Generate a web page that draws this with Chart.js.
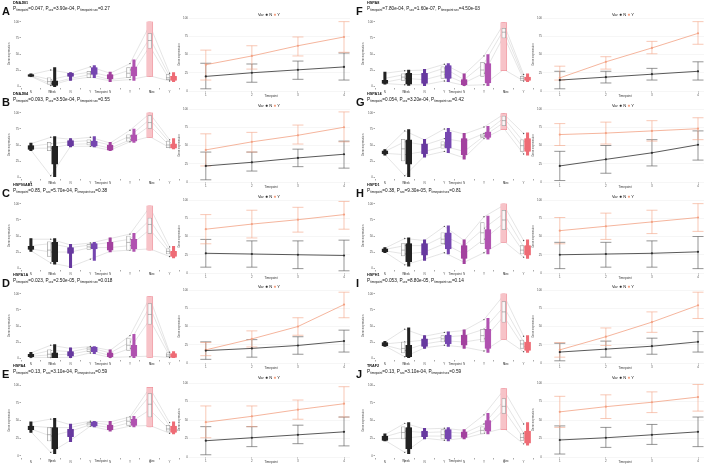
<!DOCTYPE html>
<html>
<head>
<meta charset="utf-8">
<script src="https://cdn.jsdelivr.net/npm/chart.js@4.4.1/dist/chart.umd.min.js"></script>
<style>
  body { margin: 0; background: #fff; width: 708px; height: 466px; overflow: hidden; position: relative;
         font-family: 'Liberation Sans', Arial, sans-serif; color: #111; }
  .abs { position: absolute; }
  .letter { font-weight: bold; font-size: 11px; line-height: 1; }
  .gene { font-weight: bold; font-size: 3.8px; line-height: 1; }
  .pline { font-size: 4.7px; line-height: 1; white-space: nowrap; }
  .pline sub { font-size: 3px; vertical-align: -1px; line-height: 0; }
  .lbl { font-size: 3px; color: #333; white-space: nowrap; transform: translateX(-50%); line-height: 1; }
  .legend { font-size: 4px; white-space: nowrap; line-height: 1; }
  .legend span { font-size: 5px; }
</style>
</head>
<body>
<script>
// Panel annotations
const panelLetters = ['A', 'B', 'C', 'D', 'E', 'F', 'G', 'H', 'I', 'J'];
const genes = ['DNAJB1', 'DNAJB4', 'HSP90AB1', 'HSPA1A', 'HSPA4', 'HSPA8', 'HSPA14', 'HSPD1', 'HSPH1', 'TRAF2'];
const pTimepoint = ['0.047', '0.093', '0.85', '0.023', '0.13', '7.80e-04', '0.054', '0.38', '0.053', '0.13'];
const pSex = ['3.90e-04', '3.50e-04', '5.70e-04', '2.50e-05', '3.10e-04', '1.60e-07', '3.20e-04', '9.30e-05', '8.80e-05', '3.10e-04'];
const pInteraction = ['0.27', '0.55', '0.38', '0.018', '0.59', '4.50e-03', '0.42', '0.81', '0.14', '0.59'];

// Left (violin) plots: 8 positions per panel
const leftTicks = ['N', 'Y', 'N', 'Y', 'N', 'Y', 'N', 'Y'];
const groupLabels = ['Week', 'Timepoint', 'Sex'];
const leftYTicks = [0, 25, 50, 75, 100];

const violinLow = [
  [15, -1, 9, 13, 7, 9, 15, 7],
  [41, 0, 47, 47, 41, 54, 62, 44],
  [26, 6, 0, 12, 25, 26, 28, 16],
  [1, 0, 0, 7, 0, 0, 1, 0],
  [33, 3, 20, 41, 35, 41, 41, 31],
  [3, 1, 0, 7, 0, 0, 24, 7],
  [34, 0, 31, 38, 28, 59, 74, 34],
  [24, 3, 12, 22, 7, 22, 40, 15],
  [18, 0, 15, 18, 15, 9, 29, 9],
  [21, 3, 24, 21, 24, 31, 37, 15]
];
const violinHigh = [
  [19, 29, 21, 32, 22, 41, 100, 21],
  [53, 63, 60, 63, 54, 75, 100, 60],
  [46, 46, 37, 40, 47, 54, 97, 34],
  [9, 21, 16, 18, 13, 37, 96, 10],
  [48, 53, 45, 49, 49, 56, 97, 48],
  [22, 25, 26, 35, 19, 49, 99, 19],
  [43, 74, 59, 76, 68, 79, 99, 69],
  [32, 47, 44, 66, 44, 81, 100, 44],
  [26, 47, 35, 41, 44, 62, 100, 35],
  [31, 47, 39, 40, 37, 60, 95, 47]
];
const coreLow = [
  [15, 1, 15, 18, 11, 16, 15, 9],
  [43, 20, 49, 48, 42, 56, 62, 45],
  [29, 10, 23, 30, 28, 30, 28, 18],
  [2, 0, 3, 10, 2, 3, 1, 1],
  [37, 10, 27, 42, 37, 43, 41, 33],
  [4, 3, 4, 12, 2, 5, 24, 9],
  [36, 20, 36, 45, 35, 62, 74, 40],
  [25, 10, 20, 30, 15, 30, 40, 20],
  [19, 2, 18, 22, 20, 15, 29, 12],
  [22, 10, 27, 24, 26, 35, 37, 18]
];
const coreHigh = [
  [18, 8, 20, 29, 18, 30, 100, 15],
  [49, 48, 57, 56, 50, 66, 100, 52],
  [34, 40, 32, 38, 40, 45, 97, 26],
  [6, 8, 10, 17, 8, 20, 96, 7],
  [42, 40, 38, 48, 43, 52, 97, 42],
  [9, 20, 20, 32, 10, 35, 99, 14],
  [41, 58, 52, 70, 60, 70, 99, 60],
  [30, 38, 38, 55, 35, 60, 100, 35],
  [24, 20, 30, 36, 36, 45, 100, 25],
  [28, 40, 35, 37, 34, 50, 95, 35]
];
const boxLow = [
  [null, 3, null, 13, null, 13, 59, 10],
  [null, 41, null, 50, null, 56, 76, 46],
  [null, 18, null, 29, null, 28, 54, 22],
  [null, 1, null, 10, null, 12, 53, 2],
  [null, 21, null, 42, null, 43, 55, 35],
  [null, 9, null, 12, null, 15, 75, 9],
  [null, 25, null, 45, null, 62, 80, 40],
  [null, 19, null, 38, null, 38, 60, 22],
  [null, 8, null, 25, null, 25, 56, 15],
  [null, 24, null, 24, null, 31, 60, 22]
];
const boxHigh = [
  [null, 13, null, 23, null, 29, 82, 18],
  [null, 54, null, 58, null, 66, 96, 56],
  [null, 41, null, 37, null, 50, 78, 30],
  [null, 13, null, 17, null, 31, 85, 8],
  [null, 40, null, 47, null, 55, 88, 43],
  [null, 19, null, 30, null, 37, 90, 15],
  [null, 59, null, 55, null, 67, 95, 58],
  [null, 38, null, 55, null, 71, 90, 35],
  [null, 25, null, 35, null, 45, 88, 28],
  [null, 41, null, 37, null, 41, 81, 31]
];
const boxMedian = [
  [null, 7, null, 19, null, 20, 71, 13],
  [null, 47, null, 54, null, 61, 85, 50],
  [null, 28, null, 33, null, 40, 68, 26],
  [null, 6, null, 14, null, 20, 68, 5],
  [null, 30, null, 45, null, 49, 73, 38],
  [null, 14, null, 22, null, 25, 84, 12],
  [null, 44, null, 50, null, 64, 88, 49],
  [null, 28, null, 45, null, 55, 75, 28],
  [null, 15, null, 30, null, 35, 72, 22],
  [null, 33, null, 30, null, 36, 70, 26]
];
// paired samples (gray connecting lines)
const subjects = [
  [[18, 25, 20, 30, 20, 35, 95, 20], [17, 10, 17, 22, 15, 25, 75, 15], [16, 4, 12, 18, 10, 14, 62, 10], [15, 1, 10, 14, 8, 10, 16, 8]],
  [[52, 62, 59, 62, 53, 73, 99, 58], [48, 52, 55, 57, 50, 64, 90, 54], [45, 45, 51, 52, 45, 58, 80, 49], [42, 2, 48, 48, 42, 55, 63, 46]],
  [[45, 45, 36, 39, 46, 53, 95, 33], [35, 38, 32, 36, 40, 45, 75, 28], [30, 25, 25, 32, 32, 35, 60, 24], [27, 8, 2, 14, 26, 28, 30, 18]],
  [[8, 20, 15, 18, 12, 35, 94, 9], [5, 12, 10, 16, 8, 25, 80, 6], [3, 5, 6, 12, 4, 15, 60, 3], [1, 1, 1, 8, 1, 2, 3, 1]],
  [[47, 52, 44, 49, 48, 55, 96, 47], [42, 40, 40, 47, 44, 52, 85, 42], [38, 28, 35, 44, 40, 47, 65, 37], [34, 5, 22, 42, 36, 42, 43, 32]],
  [[20, 24, 25, 34, 18, 47, 97, 18], [12, 18, 18, 28, 10, 35, 88, 14], [6, 12, 10, 18, 5, 20, 78, 10], [4, 2, 2, 8, 1, 2, 26, 8]],
  [[42, 72, 58, 75, 67, 78, 98, 68], [40, 55, 50, 60, 55, 68, 92, 55], [37, 35, 40, 48, 40, 64, 85, 45], [35, 2, 33, 40, 30, 60, 76, 36]],
  [[31, 46, 43, 65, 43, 80, 98, 43], [29, 35, 35, 50, 35, 62, 85, 33], [27, 22, 25, 38, 22, 45, 70, 25], [25, 5, 14, 24, 9, 24, 42, 17]],
  [[25, 45, 34, 40, 43, 60, 98, 34], [22, 25, 28, 33, 35, 45, 80, 25], [20, 12, 22, 27, 25, 30, 65, 18], [19, 2, 16, 20, 17, 11, 31, 10]],
  [[30, 46, 38, 39, 36, 58, 93, 45], [27, 35, 33, 34, 32, 45, 78, 32], [24, 25, 28, 28, 28, 38, 65, 25], [22, 5, 25, 22, 25, 32, 39, 17]]
];

// Right (line + error bar) plots
const timepoints = [1, 2, 3, 4];
const rightYTicks = [0, 25, 50, 75, 100];
const meanN = [
  [20, 25, 29, 33], [22, 27, 33, 38], [27, 26, 25, 24], [17, 20, 24, 30], [22, 26, 30, 34],
  [15, 19, 23, 27], [22, 31, 40, 51], [25, 26, 27, 29], [15, 19, 23, 29], [23, 26, 30, 34]
];
const lowN = [
  [3, 12, 16, 15], [3, 15, 21, 19], [8, 8, 6, 3], [5, 8, 12, 15], [3, 14, 18, 15],
  [3, 11, 15, 15], [2, 12, 22, 30], [6, 8, 8, 6], [3, 8, 12, 15], [4, 13, 17, 14]
];
const highN = [
  [38, 37, 41, 52], [41, 41, 45, 56], [46, 44, 44, 45], [29, 32, 36, 45], [41, 41, 43, 54],
  [27, 27, 31, 40], [42, 50, 58, 70], [42, 42, 44, 50], [27, 30, 34, 43], [42, 40, 44, 54]
];
const meanY = [
  [36, 48, 62, 74], [44, 55, 64, 75], [60, 67, 73, 80], [18, 33, 50, 80], [47, 55, 64, 72],
  [18, 40, 59, 79], [65, 67, 70, 73], [58, 64, 70, 76], [18, 36, 56, 79], [61, 68, 74, 81]
];
const lowY = [
  [15, 30, 48, 53], [22, 41, 52, 55], [40, 48, 56, 60], [10, 22, 38, 62], [26, 41, 51, 54],
  [15, 30, 51, 64], [50, 52, 56, 58], [40, 46, 54, 57], [8, 24, 42, 61], [40, 52, 60, 62]
];
const highY = [
  [56, 62, 74, 95], [66, 68, 78, 96], [80, 86, 90, 98], [28, 44, 62, 97], [69, 69, 77, 95],
  [34, 47, 68, 95], [80, 82, 84, 88], [76, 82, 86, 95], [28, 48, 70, 97], [82, 84, 88, 98]
];

// styling
const violinColors = ['#222222', '#222222', '#67399f', '#7646b0', '#a3429f', '#b052b0', '#f7c3c8', '#ee6b75'];
const violinShift = [0, 0.2, 0, 0.2, 0, 0.2, 0, 0.2];
const boxShift = [0, -0.08, 0, -0.08, 0, -0.08, 0, -0.08];
const colX = [0, 354];
const rowTop = [0, 91, 182, 272, 363];
const colorN = '#2e2e2e';
const colorY = '#f3a284';

Chart.defaults.font.family = "'Liberation Sans', Arial, sans-serif";
Chart.defaults.font.size = 3;
Chart.defaults.color = '#555';

const errorBars = {
  id: 'errorBars',
  beforeDatasetsDraw(chart) {
    const { ctx, scales: { x, y } } = chart;
    chart.data.datasets.forEach(ds => {
      if (!ds.errLow) return;
      ctx.save();
      ctx.strokeStyle = ds.errColor;
      ctx.lineWidth = 0.8;
      ds.data.forEach((p, k) => {
        const px = x.getPixelForValue(p.x);
        const lo = y.getPixelForValue(ds.errLow[k]);
        const hi = y.getPixelForValue(ds.errHigh[k]);
        ctx.beginPath();
        ctx.moveTo(px, lo); ctx.lineTo(px, hi);
        ctx.moveTo(px - 5.5, lo); ctx.lineTo(px + 5.5, lo);
        ctx.moveTo(px - 5.5, hi); ctx.lineTo(px + 5.5, hi);
        ctx.stroke();
      });
      ctx.restore();
    });
  }
};

function addDiv(cls, left, top, html) {
  const d = document.createElement('div');
  d.className = 'abs ' + cls;
  d.style.left = left + 'px';
  d.style.top = top + 'px';
  d.innerHTML = html;
  document.body.appendChild(d);
  return d;
}

function addCanvas(left, top, w, h) {
  const c = document.createElement('canvas');
  c.width = w; c.height = h;
  c.style.position = 'absolute';
  c.style.left = left + 'px';
  c.style.top = top + 'px';
  document.body.appendChild(c);
  return c;
}

function leftChart(i, x0, top, last) {
  const h = last ? 87 : 80;
  const cv = addCanvas(x0 + 6, top + 14, 178, h);
  const datasets = [];
  subjects[i].forEach(s => {
    datasets.push({
      type: 'line', data: s.map((v, k) => ({ x: k + 1, y: v })),
      borderColor: 'rgba(185,185,185,0.75)', borderWidth: 0.5,
      pointRadius: 0.7, pointBackgroundColor: '#555', pointBorderWidth: 0, order: 4
    });
  });
  datasets.push({
    type: 'bar', grouped: false, barThickness: 2.4, order: 3,
    data: violinLow[i].map((lo, k) => ({ x: k + 1 + violinShift[k], y: [lo, violinHigh[i][k]] })),
    backgroundColor: violinColors, borderWidth: 0
  });
  datasets.push({
    type: 'bar', grouped: false, barThickness: 6, order: 2,
    data: coreLow[i].map((lo, k) => ({ x: k + 1 + violinShift[k], y: [lo, coreHigh[i][k]] })),
    backgroundColor: violinColors, borderColor: violinColors.map((c, k) => k === 6 ? '#ec7f8a' : c),
    borderWidth: 0.5, borderSkipped: false
  });
  const boxData = [], medData = [];
  boxLow[i].forEach((lo, k) => {
    if (lo === null) return;
    boxData.push({ x: k + 1 + boxShift[k], y: [lo, boxHigh[i][k]] });
    medData.push({ x: k + 1 + boxShift[k], y: boxMedian[i][k] });
  });
  datasets.push({
    type: 'bar', grouped: false, barThickness: 3.6, order: 1, data: boxData,
    backgroundColor: 'rgba(255,255,255,0.85)', borderColor: '#8a8a8a', borderWidth: 0.5, borderSkipped: false
  });
  datasets.push({
    type: 'line', showLine: false, data: medData, order: 0,
    pointStyle: 'line', pointRadius: 1.8, borderColor: '#777', borderWidth: 0.5
  });

  new Chart(cv, {
    type: 'bar',
    data: { datasets },
    options: {
      responsive: false, animation: false, devicePixelRatio: 1,
      layout: { padding: { left: 1, right: 3, top: 6, bottom: 0 } },
      plugins: { legend: { display: false }, tooltip: { enabled: false } },
      scales: {
        x: {
          type: 'linear', min: 0.5, max: 8.5, offset: false,
          afterBuildTicks: s => { s.ticks = leftTicks.map((t, k) => ({ value: k + 1 })); },
          ticks: { callback: (v, idx) => leftTicks[idx], padding: 0.5, maxRotation: 0, autoSkip: false },
          grid: { drawOnChartArea: false, tickLength: 1.5, color: '#aaa' },
          border: { display: false },
          afterFit: s => { s.height = 6; }
        },
        y: {
          min: -3, max: 103,
          afterBuildTicks: s => { s.ticks = leftYTicks.map(v => ({ value: v })); },
          ticks: { padding: 0.5 },
          grid: { drawOnChartArea: false, tickLength: 1.5, color: '#aaa' },
          border: { display: false },
          title: { display: true, text: 'Gene expression', padding: 0 },
          afterFit: s => { s.width = 14; }
        }
      }
    }
  });

  const ly = top + (last ? 97 : 90.5);
  addDiv('lbl', x0 + 52, ly, groupLabels[0]);
  addDiv('lbl', x0 + 101, ly, groupLabels[1]);
  addDiv('lbl', x0 + 152, ly, groupLabels[2]);
}

function rightChart(i, x0, top, last) {
  const h = last ? 86 : 83;
  const cv = addCanvas(x0 + 176, top + 14, 178, h);
  new Chart(cv, {
    type: 'scatter',
    data: {
      datasets: [
        {
          label: 'N', data: timepoints.map((t, k) => ({ x: t, y: meanN[i][k] })),
          showLine: true, borderColor: colorN, backgroundColor: colorN, borderWidth: 0.8,
          pointRadius: 1.1, pointBorderWidth: 0,
          errLow: lowN[i], errHigh: highN[i], errColor: 'rgba(90,90,90,0.8)'
        },
        {
          label: 'Y', data: timepoints.map((t, k) => ({ x: t, y: meanY[i][k] })),
          showLine: true, borderColor: colorY, backgroundColor: colorY, borderWidth: 0.8,
          pointRadius: 1.1, pointBorderWidth: 0,
          errLow: lowY[i], errHigh: highY[i], errColor: 'rgba(243,162,132,0.75)'
        }
      ]
    },
    options: {
      responsive: false, animation: false, devicePixelRatio: 1,
      layout: { padding: { left: 1, right: 2, top: last ? 6 : 4, bottom: 0 } },
      plugins: { legend: { display: false }, tooltip: { enabled: false } },
      scales: {
        x: {
          type: 'linear', min: 0.657, max: 4.13,
          afterBuildTicks: s => { s.ticks = timepoints.map(v => ({ value: v })); },
          ticks: { padding: 0.5 },
          grid: { drawOnChartArea: false, tickLength: 1.5, color: '#aaa' },
          border: { display: false },
          afterFit: s => { s.height = 6; }
        },
        y: {
          min: 0, max: 100,
          afterBuildTicks: s => { s.ticks = rightYTicks.map(v => ({ value: v })); },
          ticks: { padding: 0.5 },
          grid: { color: '#ececec', lineWidth: 0.5, tickLength: 1.5 },
          border: { display: false },
          title: { display: true, text: 'Gene expression', padding: 0 },
          afterFit: s => { s.width = 13; }
        }
      }
    },
    plugins: [errorBars]
  });

  addDiv('legend', x0 + 258, top + 11.5,
    'Var <span style="color:' + colorN + '">●</span> N <span style="color:' + colorY + '">●</span> Y');
  addDiv('lbl', x0 + 271, top + (last ? 98 : 94.5), 'Timepoint');
}

panelLetters.forEach((letter, i) => {
  const col = i < 5 ? 0 : 1;
  const row = i % 5;
  const x0 = colX[col];
  const top = rowTop[row];
  const last = row === 4;
  leftChart(i, x0, top, last);
  rightChart(i, x0, top, last);
  addDiv('letter', x0 + 2, top + 5.5, letter);
  addDiv('gene', x0 + 13, top + 1.5, genes[i]);
  addDiv('pline', x0 + 13, top + 7,
    'P<sub>timepoint</sub>=' + pTimepoint[i] + ', P<sub>sex</sub>=' + pSex[i] +
    ', P<sub>timepoint:sex</sub>=' + pInteraction[i]);
});
</script>
</body>
</html>
